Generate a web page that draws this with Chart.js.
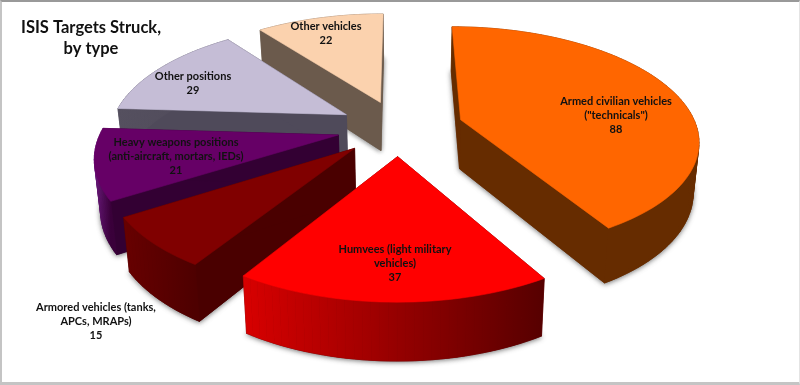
<!DOCTYPE html>
<html>
<head>
<meta charset="utf-8">
<title>ISIS Targets Struck, by type</title>
<script src="https://cdn.jsdelivr.net/npm/chart.js@4"></script>
<style>
    html, body { margin: 0; padding: 0; background: #fff; }
    #wrap { position: relative; width: 800px; height: 385px; overflow: hidden; }
    #frame {
        position: absolute; left: 0; top: 0; right: 0; bottom: 0;
        border-style: solid; border-color: #999 #e4e4e4 #c4c4c4 #c4c4c4;
        border-width: 2px 1px 3px 2px; pointer-events: none;
    }
</style>
</head>
<body>
<div id="wrap">
    <canvas id="chartTargets" width="800" height="385"></canvas>
    <div id="frame"></div>
</div>
<script>
const titleLines = ['ISIS Targets Struck,', 'by type'];
const categories = [
    'Armed civilian vehicles\n("technicals")',
    'Humvees (light military\nvehicles)',
    'Armored vehicles (tanks,\nAPCs, MRAPs)',
    'Heavy weapons positions\n(anti-aircraft, mortars, IEDs)',
    'Other positions',
    'Other vehicles'
];
const targets = [88, 37, 15, 21, 29, 22];

// colours: top face, radial walls, outer wall from left to right
const topColors = ['#ff6600', '#ff0000', '#800000', '#660066', '#c5bdd6', '#fbd2ae'];
const sideColors = ['#662c00', '#5c0000', '#4a0000', '#330033', '#4f4a5a', '#6b5a4c'];
const rimLeftColors = ['#662c00', '#d80000', '#680000', '#6a1a7c', '#55505f', '#6b5a4c'];
const rimRightColors = ['#662c00', '#560000', '#4e0000', '#3a003a', '#4f4a5a', '#6b5a4c'];

// label centres, one per category, first line
const labelAnchors = [[616, 101], [395, 249], [96, 307], [176, 142], [193, 76], [326, 26]];

// perspective of the pie plane, pie units -> pixels
function project(u, v) {
    const w = 1 - 0.1667 * v;
    return [400 + 238.6 * u / w, 121 + 110.8 * v / w];
}

// same point on the underside of the pie
function lower(p) {
    return [p[0] - (p[0] - 407) * 0.02, p[1] + 44 + (p[1] - 26) * 0.054];
}

function fillPoly(ctx, pts, color) {
    ctx.beginPath();
    pts.forEach((p, i) => i ? ctx.lineTo(p[0], p[1]) : ctx.moveTo(p[0], p[1]));
    ctx.closePath();
    ctx.fillStyle = color;
    ctx.strokeStyle = color;
    ctx.lineWidth = 0.6;
    ctx.fill();
    ctx.stroke();
}

function sliceOutline(arc) {
    const R = arc.outerRadius;
    const mid = (arc.startAngle + arc.endAngle) / 2;
    const off = arc.options.offset / R;
    const cu = Math.cos(mid) * off - 0.006;
    const cv = Math.sin(mid) * off + 0.06;
    const rim = [];
    const steps = Math.ceil((arc.endAngle - arc.startAngle) / 0.03);
    for (let i = 0; i <= steps; i++) {
        const a = arc.startAngle + (arc.endAngle - arc.startAngle) * i / steps;
        rim.push(project(cu + 0.98 * Math.cos(a), cv + 0.98 * Math.sin(a)));
    }
    return { apex: project(cu, cv), rim };
}

function drawSlice(ctx, s) {
    const { apex, rim, i } = s;
    const all = [apex, ...rim];

    // underside with its soft shadow
    ctx.save();
    ctx.shadowColor = 'rgba(0,0,0,0.55)';
    ctx.shadowBlur = 5;
    ctx.shadowOffsetY = 1;
    fillPoly(ctx, all.map(lower), sideColors[i]);
    ctx.restore();

    // radial walls
    [rim[0], rim[rim.length - 1]].forEach(p => {
        fillPoly(ctx, [apex, p, lower(p), lower(apex)], sideColors[i]);
    });

    // outer wall
    const xs = rim.map(p => p[0]);
    const grad = ctx.createLinearGradient(Math.min(...xs), 0, Math.max(...xs), 0);
    grad.addColorStop(0, rimLeftColors[i]);
    grad.addColorStop(1, rimRightColors[i]);
    for (let k = 0; k < rim.length - 1; k++) {
        fillPoly(ctx, [rim[k], rim[k + 1], lower(rim[k + 1]), lower(rim[k])], grad);
    }

    fillPoly(ctx, all, topColors[i]);
}

const pie3d = {
    id: 'pie3d',
    beforeDatasetDraw(chart, args) {
        const ctx = chart.ctx;
        const slices = args.meta.data.map((arc, i) => ({ ...sliceOutline(arc), i }));
        slices.sort((a, b) => a.apex[1] - b.apex[1]);
        ctx.save();
        slices.forEach(s => drawSlice(ctx, s));
        ctx.restore();
        return false;
    },
    afterDraw(chart) {
        const ctx = chart.ctx;
        ctx.save();
        ctx.textAlign = 'center';
        ctx.textBaseline = 'middle';
        ctx.fillStyle = '#111';

        ctx.font = 'bold 16.5px Lato';
        titleLines.forEach((line, i) => ctx.fillText(line, 91, 28 + i * 21));

        ctx.font = 'bold 11px Lato';
        categories.forEach((name, i) => {
            const lines = [...name.split('\n'), String(targets[i])];
            lines.forEach((line, k) => {
                ctx.fillText(line, labelAnchors[i][0], labelAnchors[i][1] + k * 14);
            });
        });
        ctx.restore();
    }
};

new Chart(document.getElementById('chartTargets'), {
    type: 'pie',
    data: {
        labels: categories,
        datasets: [{
            data: targets,
            backgroundColor: topColors,
            borderWidth: 0,
            offset: [27, 24.5, 25, 25.5, 25, 24.5]
        }]
    },
    options: {
        responsive: false,
        animation: false,
        radius: 100,
        plugins: {
            legend: { display: false },
            tooltip: { enabled: false }
        }
    },
    plugins: [pie3d]
});
</script>
</body>
</html>
